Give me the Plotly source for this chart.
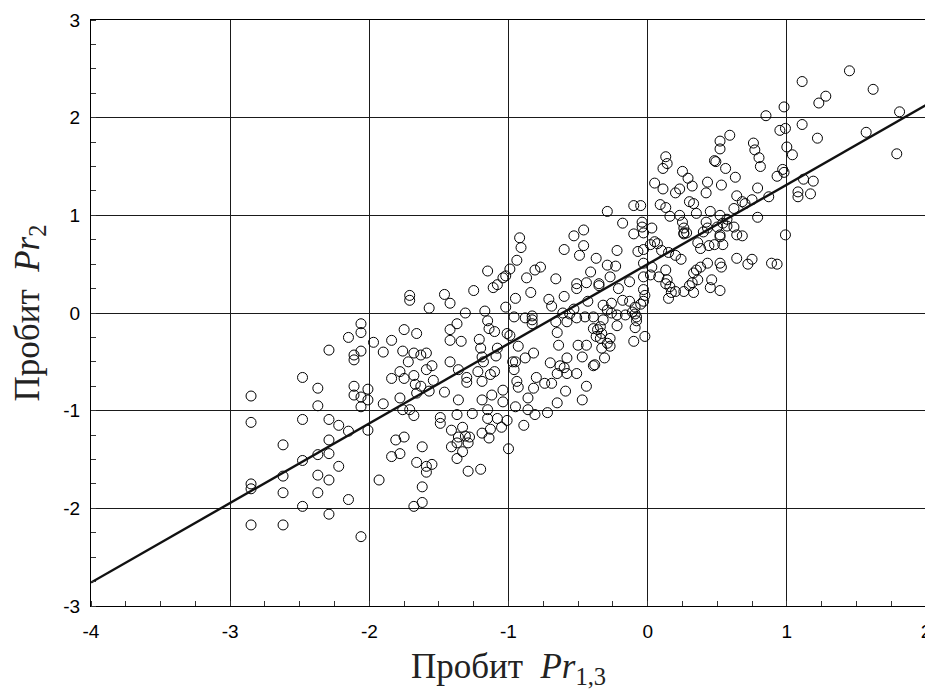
import plotly.graph_objects as go

# Probit Pr_{1,3} (x) and Probit Pr_2 (y)
probit_x13 = [
    -2.85, -2.85, -2.85, -2.85, -2.85, -2.62, -2.62, -2.62, -2.62, -2.48,
    -2.48, -2.48, -2.48, -2.37, -2.37, -2.37, -2.37, -2.37, -2.29, -2.29,
    -2.29, -2.29, -2.29, -2.29, -2.22, -2.22, -2.15, -2.15, -2.15, -2.11,
    -2.11, -2.11, -2.11, -2.06, -2.06, -2.06, -2.06, -2.06, -2.06, -2.01,
    -2.01, -2.01, -1.97, -1.93, -1.90, -1.90, -1.84, -1.84, -1.84, -1.81,
    -1.78, -1.78, -1.78,
    -1.71, -1.71, -1.57, -1.75, -1.66, -1.46, -1.42, -1.37, -1.42, -1.31,
    -1.25, -1.15, -1.17, -1.15, -1.14, -1.10, -1.11, -1.08, -1.04, -1.02,
    -0.99, -0.94, -0.91, -0.92, -1.02, -0.95, -0.96, -1.01, -0.88, -0.87,
    -0.84, -0.83, -0.83, -0.83, -0.81, -0.77, -0.66, -0.71, -0.69, -0.60,
    -0.60, -0.66, -0.65, -0.58,
    -1.42, -1.34, -1.21, -0.99, -0.93, -0.82, -0.88, -0.64, -1.76, -1.68,
    -1.63, -1.59, -1.72, -1.75, -1.68, -1.59, -1.55, -1.54, -1.42, -1.36,
    -1.30, -1.30, -1.20, -1.19, -1.18, -1.09, -1.08, -1.22, -1.19, -1.10,
    -1.13, -0.97, -0.95, -0.96, -0.94, -0.93, -0.82, -0.80, -0.74, -0.70,
    -0.69, -0.63, -0.60, -0.59, -0.65, -1.67, -1.63, -1.57, -1.66, -1.46,
    -1.36, -1.19, -1.12, -1.04, -1.04, -0.95, -0.86, -0.86, -0.81, -0.72,
    -0.65, -1.76, -1.71, -1.68, -1.49, -1.49, -1.37, -1.26, -1.15, -1.15,
    -1.08, -1.01, -1.05, -1.13, -1.19, -1.14, -0.89, -1.41, -1.33, -1.36,
    -1.37, -1.31, -1.28, -1.29, -1.41, -1.33, -1.37, -1.00, -1.75, -1.62,
    -1.66, -1.59, -1.55, -1.59, -1.29, -1.20, -1.62, -1.62, -1.68,
    0.52, 0.52, 0.59, 0.13, 0.14, 0.11, 0.48, 0.49, 0.56, 0.25,
    0.29, 0.32, 0.43, 0.42, 0.53, 0.05, 0.11, 0.23, 0.20, 0.30,
    0.33, 0.35, -0.10, -0.05, -0.29, 0.09, 0.13, 0.16, 0.23, 0.25,
    0.26, 0.26, 0.45, 0.52, 0.57, 0.54, 0.50, 0.42, 0.43, 0.40,
    0.52, -0.18, -0.04, -0.04, -0.03, 0.03, -0.10, -0.46, -0.53,
    -0.46, -0.49, -0.22, -0.07, -0.03, 0.05, 0.07, 0.02, 0.10, 0.15,
    0.20, 0.24, 0.26, 0.28, 0.36, 0.38, 0.44, 0.48, 0.52, 0.54,
    -0.37, -0.29, -0.23, -0.27, -0.41, -0.51, -0.51, -0.44, -0.35, -0.35,
    -0.13, -0.21, -0.03, -0.03, -0.03, -0.02, 0.03, 0.02, 0.08, 0.13,
    0.14, 0.13, 0.16, 0.17, 0.15, 0.20, 0.26, 0.33, 0.30, 0.33,
    0.35, 0.38, 0.32, 0.36, 0.43, 0.46, 0.45, 0.52, 0.53, 0.52,
    -0.43, -0.32, -0.26, -0.29, -0.18, -0.13, -0.09, -0.11, -0.05, -0.03,
    -0.53, -0.56, -0.61, -0.51, -0.45, -0.39, -0.26, -0.22, -0.16, -0.09,
    -0.08, -0.08, -0.09, -0.32, -0.34, -0.39, -0.36, -0.33, -0.37, -0.34,
    -0.27, -0.29, -0.27, -0.22, -0.10, -0.02, -0.50, -0.44, -0.33, -0.58,
    -0.58, -0.51, -0.47, -0.39, -0.38, -0.31, -0.44, -0.47,
    1.45, 1.11, 1.62, 1.28, 1.23, 0.98, 0.85, 1.81, 1.11, 0.99,
    0.95, 1.22, 1.57, 1.79, 0.76, 0.77, 0.80, 0.81, 1.00, 1.04,
    0.63, 0.97, 0.98, 0.93, 1.12, 1.19, 0.79, 0.87, 1.08, 1.08,
    1.17, 0.64, 0.68, 0.70, 0.75, 0.62, 0.79, 0.57, 0.62, 0.99,
    0.64, 0.68,
    0.64, 0.75, 0.72, 0.89, 0.93,
]

probit_y2 = [
    -0.85, -1.12, -1.75, -1.80, -2.17, -1.35, -1.67, -1.84, -2.17, -0.66,
    -1.09, -1.51, -1.98, -0.77, -0.95, -1.45, -1.66, -1.84, -0.38, -1.09,
    -1.30, -1.44, -1.71, -2.06, -1.15, -1.57, -0.25, -1.21, -1.91, -0.43,
    -0.48, -0.75, -0.84, -0.11, -0.20, -0.39, -0.86, -0.96, -2.29, -0.78,
    -0.89, -1.20, -0.30, -1.71, -0.40, -0.93, -0.28, -0.67, -1.47, -1.30,
    -0.60, -0.87, -1.44,
    0.18, 0.13, 0.05, -0.17, -0.21, 0.19, 0.10, -0.11, -0.17, 0.00,
    0.23, 0.43, 0.02, -0.08, -0.16, -0.19, 0.26, 0.29, 0.36, 0.38,
    0.45, 0.54, 0.67, 0.77, 0.06, 0.15, -0.04, -0.21, -0.05, 0.36,
    0.21, -0.03, -0.07, -0.11, 0.44, 0.47, 0.35, 0.14, 0.07, 0.65,
    0.17, -0.09, -0.20, -0.09,
    -0.28, -0.29, -0.27, -0.23, -0.34, -0.41, -0.46, -0.33, -0.39, -0.41,
    -0.43, -0.41, -0.50, -0.67, -0.64, -0.58, -0.54, -0.69, -0.50, -0.58,
    -0.66, -0.71, -0.36, -0.45, -0.50, -0.44, -0.36, -0.60, -0.70, -0.60,
    -0.63, -0.50, -0.50, -0.58, -0.70, -0.76, -0.77, -0.66, -0.72, -0.51,
    -0.72, -0.54, -0.56, -0.80, -0.62, -0.73, -0.75, -0.80, -0.82, -0.81,
    -0.89, -0.89, -0.84, -0.79, -0.91, -0.96, -0.87, -0.99, -1.04, -1.02,
    -0.92, -0.99, -0.99, -1.05, -1.07, -1.13, -1.04, -1.03, -0.99, -1.08,
    -1.08, -1.10, -1.17, -1.19, -1.23, -1.28, -1.15, -1.20, -1.17, -1.27,
    -1.33, -1.26, -1.27, -1.33, -1.37, -1.42, -1.49, -1.39, -1.27, -1.37,
    -1.53, -1.57, -1.55, -1.63, -1.62, -1.60, -1.78, -1.94, -1.98,
    1.76, 1.68, 1.82, 1.60, 1.53, 1.48, 1.56, 1.55, 1.48, 1.45,
    1.38, 1.30, 1.34, 1.23, 1.31, 1.33, 1.27, 1.27, 1.23, 1.14,
    1.12, 1.02, 1.10, 1.10, 1.04, 1.11, 1.08, 0.99, 1.00, 0.93,
    0.87, 0.82, 1.04, 1.00, 0.96, 0.92, 0.88, 0.93, 0.87, 0.83,
    0.80, 0.92, 0.93, 0.88, 0.82, 0.87, 0.81, 0.85, 0.79,
    0.69, 0.59, 0.64, 0.63, 0.65, 0.73, 0.71, 0.70, 0.64, 0.62,
    0.59, 0.55, 0.81, 0.82, 0.72, 0.66, 0.69, 0.70, 0.78, 0.70,
    0.56, 0.49, 0.48, 0.37, 0.42, 0.30, 0.25, 0.31, 0.30, 0.28,
    0.32, 0.25, 0.51, 0.37, 0.24, 0.18, 0.47, 0.39, 0.37, 0.44,
    0.34, 0.30, 0.27, 0.21, 0.15, 0.22, 0.22, 0.21, 0.28, 0.41,
    0.44, 0.47, 0.31, 0.34, 0.51, 0.34, 0.26, 0.51, 0.47, 0.23,
    0.12, 0.08, 0.10, 0.03, 0.13, 0.12, 0.06, 0.01, 0.09, 0.12,
    0.04, -0.01, 0.00, -0.05, -0.04, -0.04, 0.00, -0.02, -0.02, -0.01,
    -0.04, -0.08, -0.15, -0.07, -0.14, -0.16, -0.17, -0.21, -0.24, -0.26,
    -0.26, -0.31, -0.34, -0.13, -0.29, -0.24, -0.33, -0.33, -0.36, -0.46,
    -0.62, -0.62, -0.45, -0.54, -0.53, -0.46, -0.75, -0.89,
    2.48, 2.37, 2.29, 2.22, 2.15, 2.11, 2.02, 2.06, 1.93, 1.89,
    1.87, 1.79, 1.85, 1.63, 1.74, 1.67, 1.59, 1.50, 1.70, 1.62,
    1.39, 1.47, 1.44, 1.40, 1.37, 1.35, 1.28, 1.19, 1.24, 1.19,
    1.22, 1.20, 1.14, 1.12, 1.16, 1.07, 0.98, 0.89, 0.88, 0.80,
    0.80, 0.79,
    0.56, 0.55, 0.50, 0.51, 0.50,
]

# Regression line end points
line_x = [-4.0, 2.0]
line_y = [-2.76, 2.13]

x_ticks = [-4, -3, -2, -1, 0, 1, 2]
y_ticks = [-3, -2, -1, 0, 1, 2, 3]

fig = go.Figure()
fig.add_trace(go.Scatter(
    x=probit_x13, y=probit_y2, mode="markers",
    marker=dict(symbol="circle-open", size=10, color="black",
                line=dict(width=1, color="black")),
    showlegend=False, hoverinfo="x+y",
))
fig.add_trace(go.Scatter(
    x=line_x, y=line_y, mode="lines",
    line=dict(color="#111111", width=2.4), showlegend=False,
))

tick_font = dict(family="Arial, Liberation Sans, sans-serif", size=19, color="black")
title_font = dict(family="Times New Roman, Liberation Serif, serif", size=35, color="#222222")

fig.update_layout(
    width=933, height=697,
    margin=dict(l=83, r=15, t=12, b=99, autoexpand=False),
    paper_bgcolor="white", plot_bgcolor="white",
    xaxis=dict(
        range=[-4, 2], tickvals=x_ticks, ticktext=[str(v) for v in x_ticks],
        automargin=False,
        showgrid=True, gridcolor="#1a1a1a", gridwidth=1,
        showline=True, linecolor="black", linewidth=1.2, mirror=True,
        zeroline=False, ticks="", tickfont=tick_font, ticklabelstandoff=8,
        minor=dict(dtick=0.25, ticks="inside", ticklen=5, tickcolor="#333333", showgrid=False),
        title=dict(text="Пробит  <i>Pr</i><sub>1,3</sub>", font=title_font, standoff=12),
    ),
    yaxis=dict(
        range=[-3, 3], tickvals=y_ticks, ticktext=[str(v) for v in y_ticks],
        automargin=False,
        showgrid=True, gridcolor="#1a1a1a", gridwidth=1,
        showline=True, linecolor="black", linewidth=1.2, mirror=True,
        zeroline=False, ticks="", tickfont=tick_font, ticklabelstandoff=6,
        minor=dict(dtick=0.25, ticks="inside", ticklen=5, tickcolor="#333333", showgrid=False),
        title=dict(text="Пробит  <i>Pr</i><sub>2</sub>", font=title_font, standoff=14),
    ),
)

fig.write_html("out.html")
